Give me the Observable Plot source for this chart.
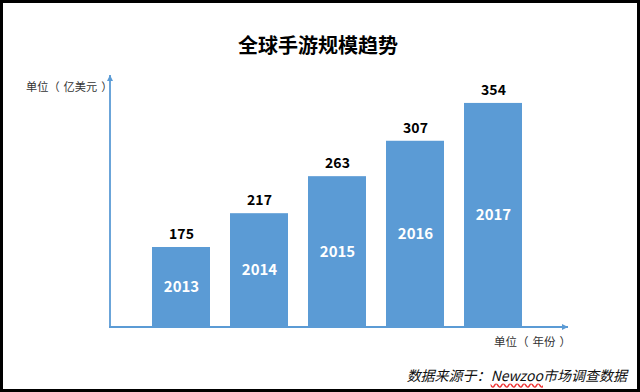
<!DOCTYPE html>
<html>
<head>
<meta charset="utf-8">
<script src="https://cdn.jsdelivr.net/npm/d3@7"></script>
<script src="https://cdn.jsdelivr.net/npm/@observablehq/plot@0.6"></script>
<style>
  body { margin: 0; background: #fff; }
  #wrap { position: relative; width: 640px; height: 392px; overflow: hidden; font-family: "Noto Sans CJK SC", "Noto Sans", sans-serif; background: #fff; }
  #wrap svg { position: absolute; left: 0; top: 0; }
  #frame { position: absolute; left: 0; top: 0; width: 640px; height: 392px; border: 3px solid #000; box-sizing: border-box; pointer-events: none; }
  .t { position: absolute; white-space: nowrap; }
  #title { left: 0; width: 636px; top: 31px; text-align: center; font-size: 20px; font-weight: bold; line-height: 28px; color: #000; }
  #yunit { left: 26px; top: 78px; font-size: 11.2px; line-height: 16px; color: #333; }
  #xunit { left: 494px; top: 333px; font-size: 11.5px; line-height: 16px; color: #333; }
  .po { margin-right: 4px; }
  .pc { margin-left: 4px; }
  #caption { right: 13px; top: 365px; font-size: 14px; line-height: 20px; font-style: italic; color: #111; }
  #caption .sp { text-decoration: underline wavy #e33; text-decoration-skip-ink: none; text-underline-offset: 2px; }
</style>
</head>
<body>
<div id="wrap">
  <div id="title" class="t">全球手游规模趋势</div>
  <div id="yunit" class="t">单位<span class="po">（</span>亿美元<span class="pc">）</span></div>
  <div id="xunit" class="t">单位<span class="po">（</span>年份<span class="pc">）</span></div>
  <div id="caption" class="t">数据来源于：<span class="sp">Newzoo</span>市场调查数据</div>
  <div id="frame"></div>
</div>
<script>
const years = ["2013", "2014", "2015", "2016", "2017"];
const values = [175, 217, 263, 307, 354];
const yDomain = [75.6, 388.7];

const data = years.map((year, i) => ({year, value: values[i]}));
const barColor = "#5B9BD5";
const axisColor = "#5B9BD5";

const plot = Plot.plot({
  width: 640,
  height: 392,
  marginLeft: 110,
  marginRight: 76,
  marginTop: 75,
  marginBottom: 65,
  style: {fontFamily: '"Noto Sans CJK SC", "Noto Sans", sans-serif', background: "transparent", overflow: "visible"},
  x: {domain: years, paddingInner: 0.26, paddingOuter: 0.54, axis: null},
  y: {domain: yDomain, clamp: true, axis: null},
  marks: [
    Plot.barY(data, {x: "year", y: "value", fill: barColor}),
    Plot.text(data, {x: "year", y: "value", text: d => String(d.value), dy: -13, fontSize: 14, fontWeight: "bold", fill: "#000"}),
    Plot.text(data, {x: "year", y: d => (d.value + yDomain[0]) / 2, text: "year", fontSize: 15, fontWeight: "bold", fill: "#fff"})
  ]
});

// axes with arrowheads, positioned from the plot's own scales
const xs = plot.scale("x");
const ys = plot.scale("y");
const x0 = xs.range[0];
const x1 = xs.range[1] + 4;
const yb = ys.range[0];
const yt = ys.range[1];
const svg = d3.select(plot);
svg.append("defs").append("marker")
  .attr("id", "arrowhead")
  .attr("viewBox", "0 0 10 10")
  .attr("refX", 10).attr("refY", 5)
  .attr("markerUnits", "userSpaceOnUse")
  .attr("markerWidth", 7).attr("markerHeight", 6)
  .attr("orient", "auto")
  .append("path").attr("d", "M0,0L10,5L0,10z").attr("fill", axisColor);
const g = svg.append("g").attr("stroke", axisColor).attr("stroke-width", 1.8).attr("fill", "none");
g.append("line").attr("x1", x0).attr("y1", yb + 0.9).attr("x2", x0).attr("y2", yt).attr("marker-end", "url(#arrowhead)");
g.append("line").attr("x1", x0 - 0.9).attr("y1", yb).attr("x2", x1).attr("y2", yb).attr("marker-end", "url(#arrowhead)");

document.getElementById("wrap").insertBefore(plot, document.getElementById("frame"));
</script>
</body>
</html>
